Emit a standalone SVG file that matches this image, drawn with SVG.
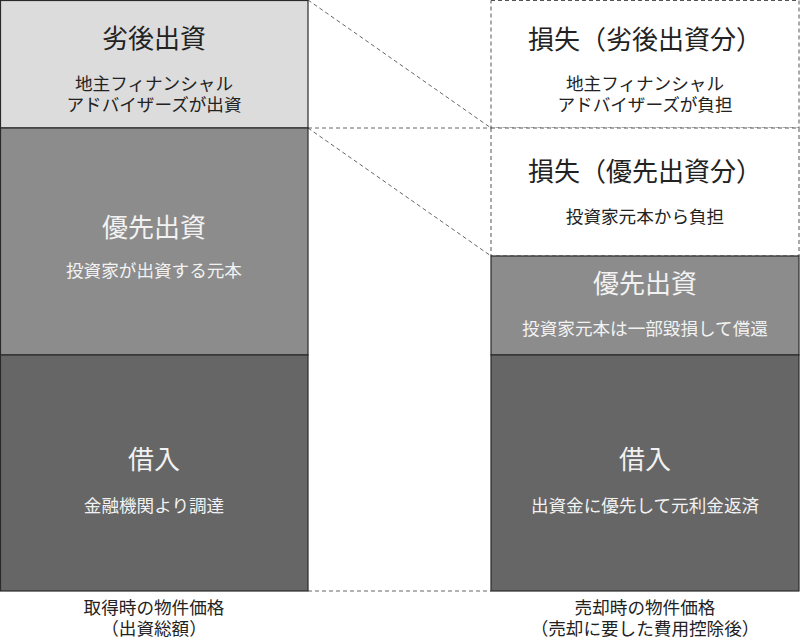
<svg xmlns="http://www.w3.org/2000/svg" width="800" height="639" viewBox="0 0 800 639">
<style>
text{font-family:"Liberation Sans","Noto Sans CJK JP",sans-serif;text-anchor:middle}
.t{font-size:26px}
.s{font-size:17.6px}
.dk{fill:#222}
.lt{fill:#f2f2f2}
.box{stroke:#2a2a2a;stroke-width:1.2}
.dash{fill:#fff;stroke:#555;stroke-width:1;stroke-dasharray:4 3}
.conn{fill:none;stroke:#666;stroke-width:1;stroke-dasharray:4 3}
</style>
<rect width="800" height="639" fill="#fff"/>
<g id="connectors">
<line class="conn" x1="308" y1="0" x2="491" y2="128"/>
<line class="conn" x1="308" y1="128" x2="491" y2="128"/>
<line class="conn" x1="308" y1="128" x2="491" y2="256"/>
<line class="conn" x1="308" y1="591" x2="491" y2="591"/>
</g>
<g id="left-subordinated">
<rect class="box" x="0.5" y="0.5" width="307.5" height="127.5" fill="#dcdcdc"/>
<text class="t dk" x="154" y="48">劣後出資</text>
<text class="s dk" x="154" y="90">地主フィナンシャル</text>
<text class="s dk" x="154" y="111">アドバイザーズが出資</text>
</g>
<g id="left-senior">
<rect class="box" x="0.5" y="128" width="307.5" height="227" fill="#8c8c8c"/>
<text class="t lt" x="154" y="237">優先出資</text>
<text class="s lt" x="154" y="277">投資家が出資する元本</text>
</g>
<g id="left-loan">
<rect class="box" x="0.5" y="355" width="307.5" height="236" fill="#666666"/>
<text class="t lt" x="154" y="469">借入</text>
<text class="s lt" x="154" y="512">金融機関より調達</text>
</g>
<g id="right-loss-sub">
<rect class="dash" x="491" y="0.5" width="308" height="127.5"/>
<text class="t dk" x="645" y="49">損失（劣後出資分）</text>
<text class="s dk" x="645" y="90">地主フィナンシャル</text>
<text class="s dk" x="645" y="111">アドバイザーズが負担</text>
</g>
<g id="right-loss-senior">
<rect class="dash" x="491" y="128" width="308" height="128"/>
<text class="t dk" x="645" y="181">損失（優先出資分）</text>
<text class="s dk" x="645" y="223">投資家元本から負担</text>
</g>
<g id="right-senior">
<rect class="box" x="491" y="256" width="308" height="99" fill="#8c8c8c"/>
<text class="t lt" x="645" y="293">優先出資</text>
<text class="s lt" x="645" y="335">投資家元本は一部毀損して償還</text>
</g>
<g id="right-loan">
<rect class="box" x="491" y="355" width="308" height="236" fill="#666666"/>
<text class="t lt" x="645" y="469">借入</text>
<text class="s lt" x="645" y="512">出資金に優先して元利金返済</text>
</g>
<g id="label-left">
<text class="s dk" x="154" y="614">取得時の物件価格</text>
<text class="s dk" x="154" y="635">（出資総額）</text>
</g>
<g id="label-right">
<text class="s dk" x="645" y="614">売却時の物件価格</text>
<text class="s dk" x="645" y="635">（売却に要した費用控除後）</text>
</g>
</svg>
